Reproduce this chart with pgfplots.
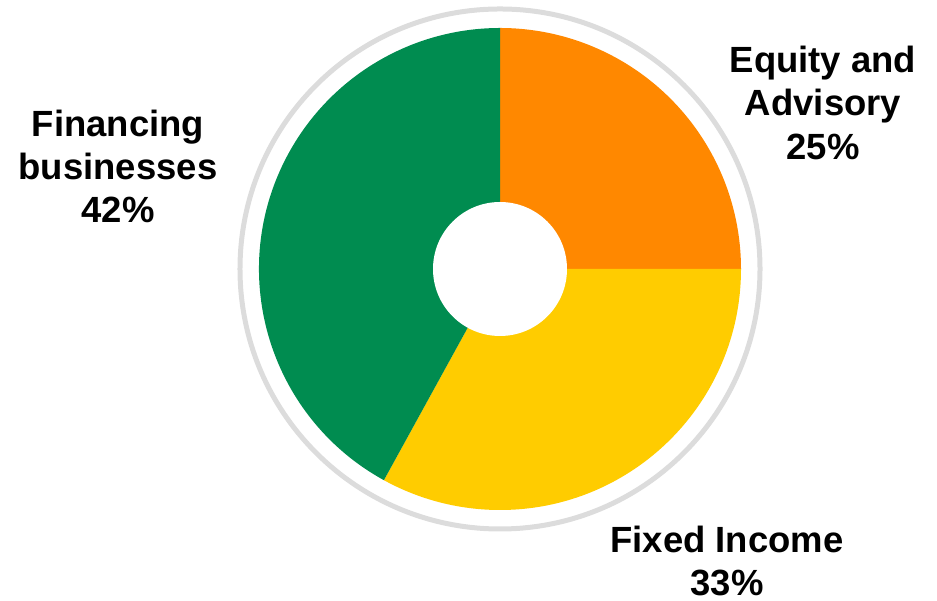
\documentclass[border=0pt]{standalone}
\usepackage{pgfplots}
\pgfplotsset{compat=1.18}
\usepackage{pgfplotstable}
\usepackage{fontspec}
\setmainfont{Liberation Sans}
\definecolor{eqorange}{HTML}{FF8800}
\definecolor{fiyellow}{HTML}{FFCC00}
\definecolor{fingreen}{HTML}{008C50}
\definecolor{ringgray}{HTML}{DCDCDC}
\pgfplotstableread{
label value
Equity 25
Fixed 33
Financing 42
}\slices
\newcommand\lbl{\fontsize{18.3}{21.5}\selectfont\bfseries}
\begin{document}
\begin{tikzpicture}
\pgfplotstablegetelem{0}{value}\of\slices \let\vA\pgfplotsretval
\pgfplotstablegetelem{1}{value}\of\slices \let\vB\pgfplotsretval
\pgfplotstablegetelem{2}{value}\of\slices \let\vC\pgfplotsretval
\pgfmathsetmacro\aA{90}
\pgfmathsetmacro\aB{\aA-3.6*\vA}
\pgfmathsetmacro\aC{\aB-3.6*\vB}
\pgfmathsetmacro\aD{\aC-3.6*\vC}
\begin{axis}[
  x=0.5bp, y=0.5bp,
  xmin=0, xmax=937, ymin=0, ymax=601,
  hide axis, clip=false,
]
\path (axis cs:0,0) rectangle (axis cs:937,601);
\draw[ringgray, line width=2.5bp] (axis cs:500,332) circle[radius=130bp];
\fill[eqorange] (axis cs:500,332) -- ++(\aA:120.5bp) arc[start angle=\aA, end angle=\aB, radius=120.5bp] -- cycle;
\fill[fiyellow] (axis cs:500,332) -- ++(\aB:120.5bp) arc[start angle=\aB, end angle=\aC, radius=120.5bp] -- cycle;
\fill[fingreen] (axis cs:500,332) -- ++(\aC:120.5bp) arc[start angle=\aC, end angle=\aD, radius=120.5bp] -- cycle;
\fill[white] (axis cs:500,332) circle[radius=33.5bp];
% labels
\node[anchor=base, inner sep=0, font=\lbl] at (axis cs:118,464) {Financing};
\node[anchor=base, inner sep=0, font=\lbl] at (axis cs:118,421) {businesses};
\node[anchor=base, inner sep=0, font=\lbl] at (axis cs:118,378) {\vC\%};
\node[anchor=base, inner sep=0, font=\lbl] at (axis cs:823,528) {Equity and};
\node[anchor=base, inner sep=0, font=\lbl] at (axis cs:823,485) {Advisory};
\node[anchor=base, inner sep=0, font=\lbl] at (axis cs:823,441) {\vA\%};
\node[anchor=base, inner sep=0, font=\lbl] at (axis cs:727,48) {Fixed Income};
\node[anchor=base, inner sep=0, font=\lbl] at (axis cs:727,5) {\vB\%};
\end{axis}
\end{tikzpicture}
\end{document}
